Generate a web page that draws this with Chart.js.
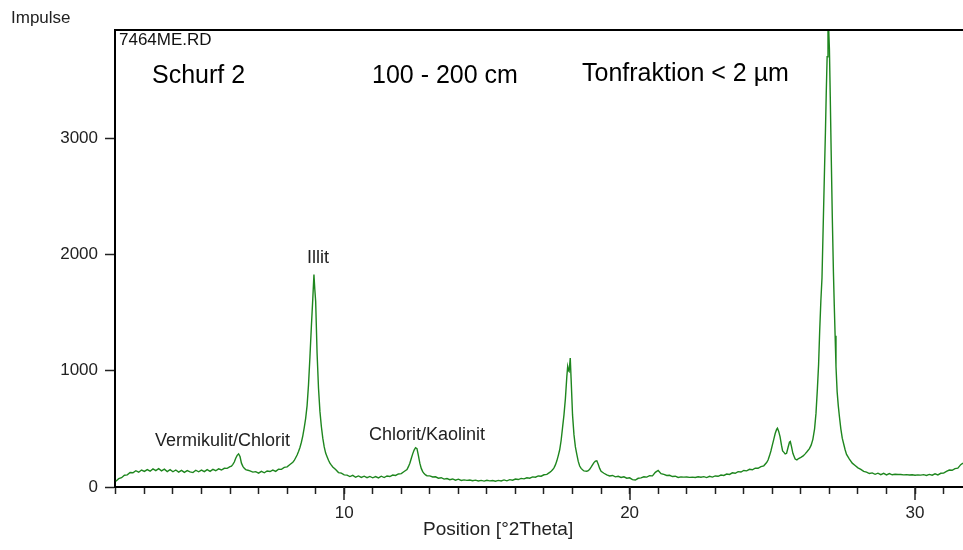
<!DOCTYPE html>
<html>
<head>
<meta charset="utf-8">
<title>7464ME.RD</title>
<script src="https://cdn.jsdelivr.net/npm/chart.js@4/dist/chart.umd.min.js"></script>
<style>
    html, body { margin: 0; padding: 0; background: #fff; }
    #wrap { width: 963px; height: 550px; }
</style>
</head>
<body>
<div id="wrap"><canvas id="xrdChart" width="963" height="550"></canvas></div>
<script>
// Position [°2Theta]
const twoTheta = [
    2.0, 2.1, 2.2, 2.3, 2.4, 2.5, 2.6, 2.7, 2.8, 2.9,
    3.0, 3.1, 3.2, 3.3, 3.4, 3.5, 3.6, 3.7, 3.8, 3.9,
    4.0, 4.1, 4.2, 4.3, 4.4, 4.5, 4.6, 4.7, 4.8, 4.9,
    5.0, 5.1, 5.2, 5.3, 5.4, 5.5, 5.6, 5.7, 5.8, 5.9, 6.0,
    6.05, 6.1, 6.15, 6.2, 6.25, 6.3, 6.35, 6.4, 6.45, 6.5, 6.55, 6.6,
    6.7, 6.8, 6.9, 7.0, 7.1, 7.2, 7.3, 7.4, 7.5, 7.6, 7.7, 7.8, 7.9, 8.0, 8.1, 8.2,
    8.25, 8.3, 8.35, 8.4, 8.45, 8.5, 8.55, 8.6, 8.65, 8.7, 8.75, 8.8, 8.85, 8.9, 8.94,
    8.97, 9.0, 9.05, 9.1, 9.15, 9.2, 9.25, 9.3, 9.35, 9.4, 9.45, 9.5, 9.55, 9.6,
    9.7, 9.8, 9.9, 10.0, 10.1, 10.2, 10.3, 10.4, 10.5, 10.6, 10.7, 10.8, 10.9,
    11.0, 11.1, 11.2, 11.3, 11.4, 11.5, 11.6, 11.7, 11.8, 11.9, 12.0, 12.1, 12.2,
    12.25, 12.3, 12.35, 12.4, 12.45, 12.5, 12.55, 12.6, 12.65, 12.7, 12.75, 12.8, 12.85, 12.9,
    13.0, 13.1, 13.2, 13.3, 13.4, 13.5, 13.6, 13.7, 13.8, 13.9,
    14.0, 14.1, 14.2, 14.3, 14.4, 14.5, 14.6, 14.7, 14.8, 14.9,
    15.0, 15.1, 15.2, 15.3, 15.4, 15.5, 15.6, 15.7, 15.8, 15.9,
    16.0, 16.1, 16.2, 16.3, 16.4, 16.5, 16.6, 16.7, 16.8, 16.9,
    17.0, 17.1, 17.2,
    17.25, 17.3, 17.35, 17.4, 17.45, 17.5, 17.55, 17.6, 17.65, 17.7, 17.75, 17.8, 17.83,
    17.86, 17.88, 17.92, 17.95, 18.0, 18.05, 18.1, 18.15, 18.2, 18.25, 18.3, 18.35, 18.4,
    18.5, 18.55, 18.6, 18.65, 18.7, 18.75, 18.8, 18.85, 18.9, 18.95, 19.0, 19.1,
    19.2, 19.3, 19.4, 19.5, 19.6, 19.7, 19.8, 19.9, 20.0, 20.1,
    20.2, 20.3, 20.4, 20.5, 20.6, 20.7, 20.8, 20.9, 21.0, 21.1,
    21.2, 21.3, 21.4, 21.5, 21.6, 21.7, 21.8, 21.9, 22.0, 22.1,
    22.2, 22.3, 22.4, 22.5, 22.6, 22.7, 22.8, 22.9, 23.0, 23.1,
    23.2, 23.3, 23.4, 23.5, 23.6, 23.7, 23.8, 23.9, 24.0, 24.1,
    24.2, 24.3, 24.4, 24.5, 24.6, 24.7, 24.8,
    24.85, 24.9, 24.95, 25.0, 25.05, 25.1, 25.15, 25.18, 25.22, 25.27,
    25.32, 25.36, 25.4, 25.45, 25.5, 25.55, 25.6, 25.63, 25.67, 25.72,
    25.76, 25.8, 25.86, 25.92, 26.0, 26.08, 26.15, 26.22, 26.3, 26.36,
    26.42, 26.48, 26.53, 26.58, 26.62, 26.66, 26.7, 26.74, 26.79, 26.83,
    26.86, 26.89, 26.92, 26.95, 26.98, 27.0, 27.03, 27.06, 27.1, 27.14,
    27.17, 27.2, 27.23, 27.27, 27.31, 27.35, 27.4, 27.45, 27.5, 27.55,
    27.6, 27.7, 27.8, 27.9, 28.0,
    28.1, 28.2, 28.3, 28.4, 28.5, 28.6, 28.7, 28.8, 28.9, 29.0,
    29.1, 29.2, 29.3, 29.4, 29.5, 29.6, 29.7, 29.8, 29.9, 30.0,
    30.1, 30.2, 30.3, 30.4, 30.5, 30.6, 30.7, 30.8, 30.9, 31.0,
    31.1, 31.2, 31.3, 31.4, 31.5, 31.6, 31.68
];

// Impulse counts, same rows as above
const impulse = [
    50, 72, 80, 101, 104, 124, 122, 140, 127, 146,
    134, 150, 136, 156, 141, 158, 139, 153, 133, 149,
    131, 146, 128, 143, 126, 141, 130, 124, 144, 131,
    145, 132, 149, 135, 152, 140, 156, 146, 161, 160, 175,
    180, 195, 215, 248, 272, 285, 262, 205, 178, 160, 150, 146,
    139, 128, 132, 119, 134, 122, 138, 133, 146, 134, 153, 152, 169, 173, 193, 212,
    228, 252, 275, 305, 340, 385, 440, 510, 590, 700, 880, 1120, 1380, 1620, 1828,
    1700, 1600, 1150, 850, 650, 520, 420, 345, 292, 260, 230, 205, 188, 172,
    150, 124, 119, 104, 102, 90, 100, 84, 95, 82, 93, 80, 91,
    79, 90, 78, 93, 81, 95, 90, 103, 99, 112, 115, 133, 150,
    175, 204, 245, 285, 318, 338, 330, 270, 205, 160, 132, 115, 104, 97,
    96, 86, 88, 76, 80, 68, 73, 63, 69, 58,
    67, 56, 61, 57, 60, 54, 59, 52, 57, 51,
    58, 53, 56, 50, 57, 52, 61, 53, 63, 58,
    68, 64, 74, 70, 79, 76, 87, 84, 95, 93,
    105, 109, 126,
    136, 148, 165, 190, 225, 270, 320, 400, 510, 620, 760, 950, 1037,
    1000, 994, 1109, 930, 620, 450, 345, 280, 220, 180, 160, 148, 138,
    135, 140, 152, 170, 190, 210, 222, 225, 195, 160, 135, 118,
    104, 95, 99, 87, 92, 82, 88, 76, 79, 63,
    60, 75, 78, 88, 85, 97, 96, 126, 142, 115,
    109, 99, 101, 90, 93, 82, 87, 85, 86, 83,
    85, 82, 88, 84, 89, 81, 92, 85, 95, 92,
    103, 99, 111, 108, 122, 118, 132, 129, 142, 139,
    152, 148, 162, 161, 176, 182, 210,
    232, 268, 310, 360, 410, 460, 495, 506, 480, 434,
    360, 310, 300, 285, 290, 340, 385, 391, 350, 290,
    265, 240, 233, 245, 255, 267, 285, 305, 330, 360,
    410, 500, 635, 850, 1050, 1350, 1600, 1800, 2330, 2750,
    3050, 3400, 3700, 4150, 3900, 3767, 3350, 2900, 2330, 1850,
    1560, 1300, 1037, 820, 700, 606, 500, 420, 370, 320,
    280, 240, 205, 185, 165,
    152, 134, 128, 116, 121, 109, 119, 106, 117, 104,
    115, 105, 110, 107, 108, 104, 106, 103, 105, 101,
    104, 102, 106, 99, 108, 102, 113, 104, 118, 119,
    134, 146, 144, 158, 162, 192, 205
];

const xTickValues = [10, 20, 30];
const yTickValues = [0, 1000, 2000, 3000];

const FONT = '"Liberation Sans", Arial, sans-serif';

// free text on the plot: header, peak names, axis captions
const texts = [
    { text: 'Impulse', x: 11, y: 23, size: 17, color: '#222' },
    { text: '7464ME.RD', x: 119, y: 45, size: 17, color: '#111' },
    { text: 'Schurf 2', x: 152, y: 83, size: 25, color: '#000' },
    { text: '100 - 200 cm', x: 372, y: 83, size: 25, color: '#000' },
    { text: 'Tonfraktion < 2 µm', x: 582, y: 81, size: 25, color: '#000' },
    { text: 'Vermikulit/Chlorit', x: 155, y: 446, size: 18, color: '#222' },
    { text: 'Illit', x: 307, y: 263, size: 18, color: '#222' },
    { text: 'Chlorit/Kaolinit', x: 369, y: 440, size: 18, color: '#222' },
    { text: 'Position [°2Theta]', x: 423, y: 535, size: 19, color: '#222' }
];

const framePlugin = {
    id: 'xrdFrame',
    afterDraw(chart) {
        const { ctx, chartArea, scales } = chart;
        ctx.save();

        // top frame line
        ctx.strokeStyle = '#000';
        ctx.lineWidth = 2;
        ctx.beginPath();
        ctx.moveTo(chartArea.left - 1, chartArea.top);
        ctx.lineTo(chartArea.right, chartArea.top);
        ctx.stroke();

        // longer ticks at the labelled positions
        ctx.strokeStyle = '#222';
        ctx.lineWidth = 1.5;
        xTickValues.forEach(v => {
            const px = Math.round(scales.x.getPixelForValue(v));
            ctx.beginPath();
            ctx.moveTo(px, chartArea.bottom);
            ctx.lineTo(px, chartArea.bottom + 13);
            ctx.stroke();
        });

        ctx.textAlign = 'left';
        ctx.textBaseline = 'alphabetic';
        texts.forEach(t => {
            ctx.font = `${t.size}px ${FONT}`;
            ctx.fillStyle = t.color;
            ctx.fillText(t.text, t.x, t.y);
        });
        ctx.restore();
    }
};

Chart.defaults.font.family = FONT;

new Chart(document.getElementById('xrdChart').getContext('2d'), {
    type: 'line',
    data: {
        datasets: [{
            label: '7464ME.RD',
            data: twoTheta.map((x, i) => ({ x: x, y: impulse[i] })),
            borderColor: '#1e861e',
            borderWidth: 1.4,
            pointRadius: 0,
            tension: 0,
            fill: false
        }]
    },
    options: {
        responsive: false,
        animation: false,
        layout: { padding: { top: 30, right: 0, bottom: 0, left: 0 } },
        plugins: { legend: { display: false }, tooltip: { enabled: false } },
        scales: {
            x: {
                type: 'linear',
                min: 1.97,
                max: 31.68,
                afterFit: s => { s.height = 63; },
                border: { color: '#000', width: 2 },
                grid: { drawOnChartArea: false, tickLength: 7, tickColor: '#222', tickWidth: 1.5 },
                ticks: {
                    stepSize: 1,
                    autoSkip: false,
                    includeBounds: false,
                    maxRotation: 0,
                    padding: 9,
                    color: '#222',
                    font: { size: 17 },
                    callback: v => xTickValues.includes(v) ? String(v) : ''
                }
            },
            y: {
                type: 'linear',
                min: 0,
                max: 3930,
                afterFit: s => { s.width = 115; },
                afterBuildTicks: s => { s.ticks = yTickValues.map(v => ({ value: v })); },
                border: { color: '#000', width: 2 },
                grid: { drawOnChartArea: false, tickLength: 10, tickColor: '#222', tickWidth: 1.5 },
                ticks: {
                    padding: 7,
                    color: '#222',
                    font: { size: 17 },
                    callback: v => String(v)
                }
            }
        }
    },
    plugins: [framePlugin]
});
</script>
</body>
</html>
